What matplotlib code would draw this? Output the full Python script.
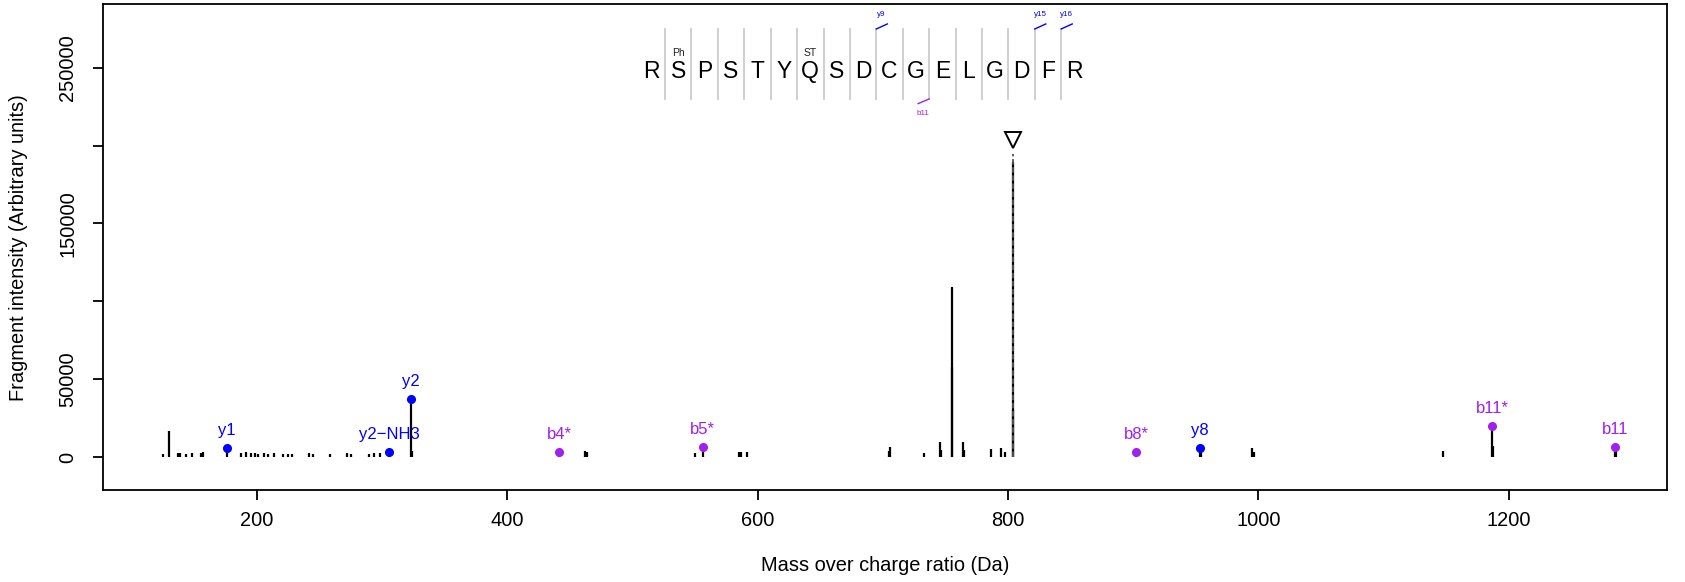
import matplotlib
matplotlib.use("Agg")
import matplotlib.pyplot as plt

plt.rcParams['font.family'] = ['Liberation Sans', 'DejaVu Sans']

# peak list: m/z and intensity (arbitrary units)
mz = [124.7, 129.5, 136.7, 138.8, 143.4, 147.9, 155.3, 157.2, 175.8, 187.2,
      191.2, 195.2, 198.4, 201.1, 205.3, 209.0, 213.8, 220.5, 224.5, 228.2,
      241.8, 245.2, 258.5, 272.3, 275.5, 289.6, 293.6, 298.4, 305.6, 322.9,
      323.6, 441.7, 462.5, 464.0, 550.2, 556.3, 584.8, 587.0, 591.5, 704.8,
      705.5, 733.2, 745.7, 746.2, 755.0, 755.4, 764.3, 764.8, 786.3, 794.3,
      797.5, 803.7, 804.0, 902.3, 953.4, 954.0, 995.1, 996.4, 1147.2, 1186.8,
      1187.2, 1285.0, 1285.5]
intensity = [2000, 16900, 3000, 2600, 2300, 2600, 2800, 3400, 6000, 2600,
             3500, 3000, 2600, 2300, 2800, 2300, 2600, 2300, 2300, 2000,
             2600, 2300, 2300, 2600, 2300, 2300, 2600, 3000, 3400, 37400,
             4000, 3400, 4300, 3500, 2600, 6600, 3400, 3400, 3400, 4000,
             6400, 3000, 9800, 5000, 109500, 58000, 9800, 5000, 5600, 6200,
             3500, 189700, 30400, 3200, 6200, 4000, 6000, 3400, 3800, 20100,
             7000, 6800, 4000]

# annotated fragment ions
frag_names = ["y1", "y2\u2212NH3", "y2", "b4*", "b5*", "b8*", "y8", "b11*", "b11"]
frag_mz = [175.8, 305.6, 322.9, 441.7, 556.3, 902.3, 953.4, 1186.8, 1285.0]
frag_int = [6000, 3400, 37400, 3400, 6600, 3200, 6200, 20100, 6800]

precursor_mz = 804.2
precursor_int = 203600

# peptide sequence and its annotations
sequence = list("RSPSTYQSDCGELGDFR")
mods = {1: "Ph", 6: "ST"}
y_cuts = {8: "y9", 14: "y15", 15: "y16"}
b_cuts = {10: "b11"}

BLUE = "#0000FF"
PURPLE = "#A020F0"

fig = plt.figure(figsize=(16.85, 5.82), dpi=100)
ax = fig.add_axes([0.0614, 0.158, 0.9279, 0.8343])

ax.vlines(mz, 0, intensity, color="black", linewidth=1.6)
ax.vlines(precursor_mz, 0, precursor_int - 9000, color="#555555",
          linewidth=1.3, linestyles=(0, (3, 1.5)))
ax.plot([precursor_mz], [precursor_int], marker="v", markersize=11,
        markerfacecolor="white", markeredgecolor="black", markeredgewidth=1.4)

for name, x, y in zip(frag_names, frag_mz, frag_int):
    col = BLUE if name.startswith("y") else PURPLE
    ax.plot([x], [y], "o", color=col, markersize=5.5, zorder=3)
    ax.annotate(name, (x, y), xytext=(0, 12.5), textcoords="offset points",
                ha="center", va="center", color=col, fontsize=12)

# sequence drawing
seq_x0 = 515.5
seq_dx = 21.1
sep_lo, sep_hi = 229900, 274800
for i, aa in enumerate(sequence):
    x = seq_x0 + i * seq_dx
    ax.text(x, 247400, aa, ha="center", va="center", fontsize=16.5)
    if i in mods:
        ax.text(x, 259600, mods[i], ha="center", va="center", fontsize=7.5,
                color="#222222")
    if i < len(sequence) - 1:
        xs = x + seq_dx / 2
        ax.plot([xs, xs], [sep_lo, sep_hi], color="#CCCCCC", linewidth=1.3)
        if i in y_cuts:
            ax.plot([xs, xs + 8.8], [sep_hi, sep_hi + 3200], color=BLUE, linewidth=1)
            ax.text(xs + 4.2, 284200, y_cuts[i], ha="center", va="center",
                    fontsize=5.8, color=BLUE)
        if i in b_cuts:
            ax.plot([xs, xs - 8.8], [sep_lo, sep_lo - 3000], color=PURPLE, linewidth=1)
            ax.text(xs - 4.8, 220700, b_cuts[i], ha="center", va="center",
                    fontsize=5.8, color=PURPLE)

ax.set_xlim(77.4, 1326.5)
ax.set_ylim(-21000, 290500)
ax.set_xticks([200, 400, 600, 800, 1000, 1200])
ax.set_yticks([0, 50000, 100000, 150000, 200000, 250000])
ax.set_yticklabels(["0", "50000", "", "150000", "", "250000"])
for lab in ax.get_yticklabels():
    lab.set_rotation(90)
    lab.set_va("center")

for s in ax.spines.values():
    s.set_linewidth(1.3)
ax.tick_params(axis="both", direction="out", length=7, width=1.3, labelsize=14.4)
ax.tick_params(axis="x", pad=8)
ax.tick_params(axis="y", pad=12)

ax.set_xlabel("Mass over charge ratio (Da)", fontsize=14.4, labelpad=19)
ax.set_ylabel("Fragment intensity (Arbitrary units)", fontsize=14.4, labelpad=21.5)

fig.savefig("out.png", dpi=100)
